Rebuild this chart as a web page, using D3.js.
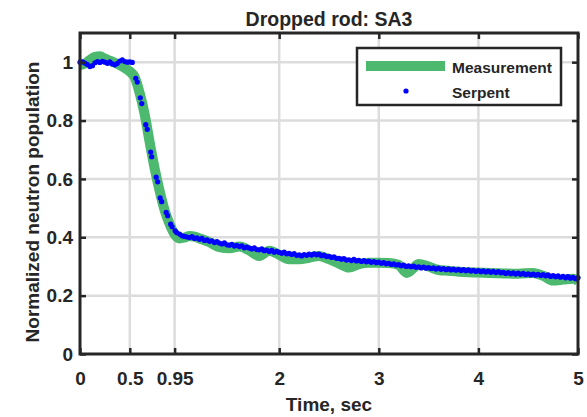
<!DOCTYPE html>
<html>
<head>
<meta charset="utf-8">
<script src="https://cdn.jsdelivr.net/npm/d3@7"></script>
<style>
  body { margin: 0; background: #fff; }
  svg text { font-family: "Liberation Sans", Arial, sans-serif; font-weight: bold; fill: #262626; }
</style>
</head>
<body>
<svg id="chart" width="587" height="417"></svg>
<script>
// tick labels
const xTicks = [0, 0.5, 0.95, 2, 3, 4, 5];
const yTicks = [0, 0.2, 0.4, 0.6, 0.8, 1];

// Measurement (thick green)
const measTime = [0, 0.05, 0.1, 0.15, 0.2, 0.25, 0.3, 0.35, 0.4, 0.45, 0.5, 0.55, 0.6, 0.65, 0.7, 0.75, 0.8, 0.85, 0.9, 0.95,
  1.0, 1.05, 1.1, 1.15, 1.2, 1.3, 1.4, 1.5, 1.6, 1.7, 1.8, 1.9, 2.0, 2.1, 2.2, 2.3, 2.4, 2.5, 2.6, 2.7, 2.8, 2.9,
  3.0, 3.1, 3.2, 3.28, 3.35, 3.4, 3.5, 3.6, 3.7, 3.8, 3.9, 4.0, 4.2, 4.4, 4.55, 4.65, 4.75, 4.85, 4.95, 5.0];
const measValue = [0.990, 0.995, 1.008, 1.018, 1.020, 1.012, 1.005, 0.998, 0.990, 0.980, 0.968, 0.948, 0.893, 0.820, 0.725, 0.635, 0.558, 0.492, 0.445, 0.410,
  0.396, 0.399, 0.404, 0.402, 0.396, 0.383, 0.366, 0.362, 0.368, 0.355, 0.336, 0.354, 0.340, 0.325, 0.325, 0.330, 0.336, 0.325, 0.310, 0.296, 0.308, 0.313,
  0.313, 0.312, 0.305, 0.278, 0.295, 0.308, 0.300, 0.288, 0.285, 0.282, 0.280, 0.279, 0.277, 0.275, 0.278, 0.268, 0.252, 0.255, 0.258, 0.250];

// Serpent (blue dots)
const serpentTime = [0, 0.025, 0.05, 0.075, 0.1, 0.125, 0.15, 0.175, 0.2, 0.225, 0.25, 0.275, 0.3, 0.325, 0.35, 0.375, 0.4, 0.425, 0.45, 0.475, 0.5, 0.525,
  0.56, 0.575, 0.605, 0.62, 0.66, 0.675, 0.71, 0.72, 0.765, 0.78, 0.805, 0.82, 0.865, 0.88, 0.91, 0.925, 0.955, 0.97,
  1.0, 1.025, 1.05, 1.075, 1.1, 1.125, 1.15, 1.175, 1.2, 1.225, 1.25, 1.275, 1.3, 1.325, 1.35, 1.375, 1.4, 1.425, 1.45, 1.475,
  1.5, 1.525, 1.55, 1.575, 1.6, 1.625, 1.65, 1.675, 1.7, 1.725, 1.75, 1.775, 1.8, 1.825, 1.85, 1.875, 1.9, 1.925, 1.95, 1.975,
  2.0, 2.025, 2.05, 2.075, 2.1, 2.125, 2.15, 2.175, 2.2, 2.225, 2.25, 2.275, 2.3, 2.325, 2.35, 2.375, 2.4, 2.425, 2.45, 2.475,
  2.5, 2.525, 2.55, 2.575, 2.6, 2.625, 2.65, 2.675, 2.7, 2.725, 2.75, 2.775, 2.8, 2.825, 2.85, 2.875, 2.9, 2.925, 2.95, 2.975,
  3.0, 3.025, 3.05, 3.075, 3.1, 3.125, 3.15, 3.175, 3.2, 3.225, 3.25, 3.275, 3.3, 3.325, 3.35, 3.375, 3.4, 3.425, 3.45, 3.475,
  3.5, 3.525, 3.55, 3.575, 3.6, 3.625, 3.65, 3.675, 3.7, 3.725, 3.75, 3.775, 3.8, 3.825, 3.85, 3.875, 3.9, 3.925, 3.95, 3.975,
  4.0, 4.025, 4.05, 4.075, 4.1, 4.125, 4.15, 4.175, 4.2, 4.225, 4.25, 4.275, 4.3, 4.325, 4.35, 4.375, 4.4, 4.425, 4.45, 4.475,
  4.5, 4.525, 4.55, 4.575, 4.6, 4.625, 4.65, 4.675, 4.7, 4.725, 4.75, 4.775, 4.8, 4.825, 4.85, 4.875, 4.9, 4.925, 4.95, 4.975, 5.0];
const serpentValue = [1.000, 1.001, 0.997, 0.992, 0.985, 0.988, 0.998, 1.002, 0.999, 1.003, 1.000, 0.996, 1.001, 0.994, 0.991, 0.996, 1.004, 1.008, 1.002, 1.000, 1.001, 0.999,
  0.945, 0.932, 0.878, 0.858, 0.786, 0.770, 0.692, 0.676, 0.606, 0.590, 0.535, 0.522, 0.485, 0.474, 0.445, 0.436, 0.422, 0.416,
  0.411, 0.405, 0.403, 0.401, 0.399, 0.402, 0.396, 0.398, 0.393, 0.396, 0.389, 0.391, 0.386, 0.388, 0.382, 0.385, 0.380, 0.377, 0.381, 0.374,
  0.373, 0.376, 0.370, 0.372, 0.368, 0.371, 0.364, 0.366, 0.363, 0.360, 0.364, 0.358, 0.357, 0.360, 0.354, 0.356, 0.351, 0.355, 0.349, 0.352,
  0.348, 0.345, 0.349, 0.343, 0.345, 0.341, 0.344, 0.338, 0.340, 0.336, 0.341, 0.338, 0.342, 0.339, 0.343, 0.340, 0.342, 0.337, 0.339, 0.334,
  0.335, 0.331, 0.333, 0.328, 0.328, 0.325, 0.327, 0.322, 0.323, 0.320, 0.324, 0.319, 0.321, 0.317, 0.320, 0.316, 0.318, 0.314, 0.317, 0.313,
  0.315, 0.311, 0.313, 0.309, 0.311, 0.307, 0.309, 0.305, 0.306, 0.302, 0.305, 0.300, 0.302, 0.299, 0.301, 0.297, 0.299, 0.295, 0.298, 0.294,
  0.296, 0.293, 0.295, 0.291, 0.294, 0.290, 0.293, 0.289, 0.292, 0.288, 0.291, 0.287, 0.290, 0.286, 0.289, 0.285, 0.288, 0.284, 0.287, 0.283,
  0.286, 0.282, 0.285, 0.281, 0.284, 0.280, 0.283, 0.279, 0.282, 0.278, 0.280, 0.276, 0.279, 0.275, 0.278, 0.274, 0.277, 0.273, 0.276, 0.272,
  0.275, 0.271, 0.274, 0.270, 0.273, 0.269, 0.272, 0.268, 0.271, 0.266, 0.269, 0.265, 0.268, 0.263, 0.266, 0.261, 0.265, 0.260, 0.263, 0.258, 0.261];

const svg = d3.select("#chart");
const margin = {top: 33, right: 9, bottom: 63, left: 80};
const width = 587 - margin.left - margin.right;
const height = 417 - margin.top - margin.bottom;

const x = d3.scaleLinear().domain([0, 5]).range([0, width]);
const y = d3.scaleLinear().domain([0, 1.1]).range([height, 0]);

const g = svg.append("g").attr("transform", "translate(" + margin.left + "," + margin.top + ")");

// grid
g.append("g").selectAll("line").data(xTicks.slice(1, -1)).enter().append("line")
  .attr("x1", d => x(d)).attr("x2", d => x(d)).attr("y1", 0).attr("y2", height)
  .attr("stroke", "#dcdcdc").attr("stroke-width", 2.5);
g.append("g").selectAll("line").data(yTicks.slice(1)).enter().append("line")
  .attr("x1", 0).attr("x2", width).attr("y1", d => y(d)).attr("y2", d => y(d))
  .attr("stroke", "#dcdcdc").attr("stroke-width", 2.5);

// measurement
const meas = measTime.map((t, i) => [t, measValue[i]]);
g.append("path").datum(meas)
  .attr("fill", "none").attr("stroke", "#4cb96e").attr("stroke-width", 10)
  .attr("stroke-linejoin", "round").attr("stroke-linecap", "butt")
  .attr("d", d3.line().x(d => x(d[0])).y(d => y(d[1])).curve(d3.curveMonotoneX));

// serpent
g.append("g").selectAll("circle").data(serpentTime).enter().append("circle")
  .attr("cx", d => x(d)).attr("cy", (d, i) => y(serpentValue[i])).attr("r", 2.6)
  .attr("fill", "#0000ff");

// axes
const tickLen = 6;
const axBottom = g.append("g").attr("transform", "translate(0," + height + ")")
  .call(d3.axisBottom(x).tickValues(xTicks).tickSizeInner(-tickLen).tickSizeOuter(0).tickPadding(18).tickFormat(d3.format("")));
const axTop = g.append("g")
  .call(d3.axisTop(x).tickValues(xTicks).tickSizeInner(-tickLen).tickSizeOuter(0).tickFormat(""));
const axLeft = g.append("g")
  .call(d3.axisLeft(y).tickValues(yTicks).tickSizeInner(-tickLen).tickSizeOuter(0).tickPadding(7).tickFormat(d3.format("")));
const axRight = g.append("g").attr("transform", "translate(" + width + ",0)")
  .call(d3.axisRight(y).tickValues(yTicks).tickSizeInner(-tickLen).tickSizeOuter(0).tickFormat(""));

[axBottom, axTop, axLeft, axRight].forEach(a => {
  a.select(".domain").remove();
  a.selectAll(".tick line").attr("stroke", "#262626").attr("stroke-width", 2.5);
  a.selectAll("text").style("font-size", "19px").attr("fill", "#262626");
});

g.append("rect").attr("width", width).attr("height", height)
  .attr("fill", "none").attr("stroke", "#262626").attr("stroke-width", 3);

// title and labels
svg.append("text").attr("x", margin.left + width / 2).attr("y", 26)
  .attr("text-anchor", "middle").style("font-size", "19.5px").text("Dropped rod: SA3");
svg.append("text").attr("x", margin.left + width / 2).attr("y", 411)
  .attr("text-anchor", "middle").style("font-size", "19px").text("Time, sec");
svg.append("text").attr("transform", "translate(39,202) rotate(-90)")
  .attr("text-anchor", "middle").style("font-size", "19px").text("Normalized neutron population");

// legend
const lg = svg.append("g").attr("transform", "translate(357,48)");
lg.append("rect").attr("width", 204).attr("height", 57)
  .attr("fill", "#fff").attr("stroke", "#262626").attr("stroke-width", 2.5);
lg.append("line").attr("x1", 9).attr("x2", 88).attr("y1", 18).attr("y2", 18)
  .attr("stroke", "#4cb96e").attr("stroke-width", 10);
lg.append("circle").attr("cx", 49).attr("cy", 43).attr("r", 2.6).attr("fill", "#0000ff");
lg.append("text").attr("x", 95).attr("y", 25).style("font-size", "15.5px").text("Measurement");
lg.append("text").attr("x", 95).attr("y", 50).style("font-size", "15.5px").text("Serpent");
</script>
</body>
</html>
